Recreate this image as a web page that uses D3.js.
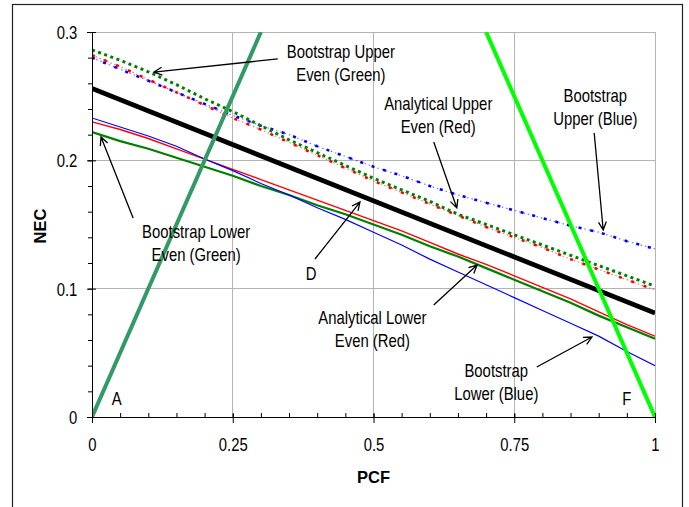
<!DOCTYPE html>
<html>
<head>
<meta charset="utf-8">
<script src="https://cdn.jsdelivr.net/npm/d3@7"></script>
<style>
body{margin:0;background:#fff;}
</style>
</head>
<body>
<svg id="chart"></svg>
<script>
// PCF steps (also used as minor x ticks)
const pcf = [0, 0.05, 0.1, 0.15, 0.2, 0.25, 0.3, 0.35, 0.4, 0.45, 0.5, 0.55, 0.6, 0.65, 0.7, 0.75, 0.8, 0.85, 0.9, 0.95, 1];

// lower bounds (solid)
const bootLowerBlue  = [0.233, 0.226, 0.219, 0.211, 0.201, 0.192, 0.182, 0.173, 0.163, 0.154, 0.144, 0.134, 0.123, 0.113, 0.103, 0.093, 0.083, 0.073, 0.063, 0.051, 0.040];
const anaLowerRed    = [0.230, 0.224, 0.217, 0.209, 0.201, 0.193, 0.185, 0.177, 0.169, 0.161, 0.153, 0.145, 0.136, 0.127, 0.119, 0.110, 0.101, 0.092, 0.082, 0.072, 0.063];
const bootLowerGreen = [0.222, 0.215, 0.209, 0.202, 0.195, 0.188, 0.180, 0.173, 0.165, 0.158, 0.150, 0.142, 0.133, 0.125, 0.116, 0.107, 0.098, 0.089, 0.079, 0.070, 0.061];

// upper bounds (dotted)
const bootUpperBlue  = [0.280, 0.271, 0.262, 0.253, 0.244, 0.235, 0.227, 0.220, 0.211, 0.203, 0.195, 0.188, 0.180, 0.173, 0.167, 0.161, 0.155, 0.149, 0.144, 0.137, 0.131];
const anaUpperRed    = [0.282, 0.273, 0.263, 0.253, 0.243, 0.233, 0.224, 0.214, 0.204, 0.194, 0.184, 0.175, 0.166, 0.157, 0.148, 0.140, 0.132, 0.123, 0.115, 0.107, 0.099];
const bootUpperGreen = [0.286, 0.278, 0.269, 0.259, 0.248, 0.238, 0.227, 0.216, 0.206, 0.196, 0.186, 0.177, 0.168, 0.158, 0.150, 0.142, 0.134, 0.126, 0.118, 0.110, 0.102];

// straight lines
const meanPcf = [0, 1];
const meanNec = [0.256, 0.081];
const linePcfA = [0, 0.3];
const lineNecA = [0, 0.3];
const linePcfF = [0.7, 1];
const lineNecF = [0.3, 0];

// axes
const xTicks = [0, 0.25, 0.5, 0.75, 1];
const yTicks = [0, 0.1, 0.2, 0.3];
const yMinor = [0, 0.02, 0.04, 0.06, 0.08, 0.1, 0.12, 0.14, 0.16, 0.18, 0.2, 0.22, 0.24, 0.26, 0.28, 0.3];

// call-outs, positioned in data units
const notes = [
  {text: ['Bootstrap Upper', 'Even (Green)'], at: [0.442, 0.2795], from: [0.330, 0.279], to: [0.110, 0.2688]},
  {text: ['Analytical Upper', 'Even (Red)'], at: [0.615, 0.2392], from: [0.607, 0.2143], to: [0.648, 0.1629]},
  {text: ['Bootstrap', 'Upper (Blue)'], at: [0.894, 0.2457], from: [0.892, 0.2213], to: [0.908, 0.1457]},
  {text: ['Bootstrap Lower', 'Even (Green)'], at: [0.185, 0.1393], from: [0.073, 0.1551], to: [0.016, 0.2182]},
  {text: ['D'], at: [0.389, 0.1068], from: [0.396, 0.1231], to: [0.476, 0.1675]},
  {text: ['Analytical Lower', 'Even (Red)'], at: [0.498, 0.0725], from: [0.607, 0.0873], to: [0.684, 0.1184]},
  {text: ['Bootstrap', 'Lower (Blue)'], at: [0.718, 0.0314], from: [0.790, 0.039], to: [0.888, 0.0623]}
];
const pointLabels = [{text: 'A', at: [0.044, 0.0094]}, {text: 'F', at: [0.95, 0.0094]}];

const font = '"Liberation Sans", Arial, Helvetica, sans-serif';
const fs = 17.7, squeeze = 'scale(0.84,1)';
const w = 689, h = 507;
const mLeft = 92, mRight = 655, mTop = 32, mBottom = 417;

const x = d3.scaleLinear().domain([0, 1]).range([mLeft, mRight]);
const y = d3.scaleLinear().domain([0, 0.3]).range([mBottom, mTop]);

const svg = d3.select('#chart').attr('width', w).attr('height', h);

// outer frame
svg.append('rect')
  .attr('x', 12.5).attr('y', 4.5)
  .attr('width', 670).attr('height', 530)
  .attr('fill', 'none').attr('stroke', '#222').attr('stroke-width', 1.2);

// grid
const grid = svg.append('g').attr('stroke', '#b4b4b4').attr('shape-rendering', 'crispEdges');
grid.selectAll('line.v').data(xTicks.slice(1)).join('line')
  .attr('x1', d => x(d)).attr('x2', d => x(d))
  .attr('y1', y(0.3)).attr('y2', y(0));
grid.selectAll('line.h').data(yTicks.slice(1)).join('line')
  .attr('x1', x(0)).attr('x2', x(1))
  .attr('y1', d => y(d)).attr('y2', d => y(d));

// clip
svg.append('clipPath').attr('id', 'clip')
  .append('rect').attr('x', mLeft).attr('y', mTop).attr('width', mRight - mLeft).attr('height', mBottom - mTop);
const plot = svg.append('g').attr('clip-path', 'url(#clip)');

const line = d3.line().x(d => x(d[0])).y(d => y(d[1]));

// dotted upper bounds: faint fine dots under bigger square dots
function dotted(vals, color, fine, big, width){
  const pts = d3.zip(pcf, vals);
  plot.append('path').attr('d', line(pts)).attr('fill', 'none')
    .attr('stroke', color).attr('stroke-opacity', 0.55).attr('stroke-width', 1.2)
    .attr('stroke-dasharray', fine);
  plot.append('path').attr('d', line(pts)).attr('fill', 'none')
    .attr('stroke', color).attr('stroke-width', width)
    .attr('stroke-dasharray', big);
}
dotted(bootUpperBlue, '#0000ff', '1.5,3', '3,9', 2.6);
dotted(anaUpperRed, '#ff0000', '1.5,2.5', '3,10', 2.6);
plot.append('path').attr('d', line(d3.zip(pcf, bootUpperGreen))).attr('fill', 'none')
  .attr('stroke', '#008000').attr('stroke-width', 3).attr('stroke-dasharray', '3,3.5');

// solid lower bounds
plot.append('path').attr('d', line(d3.zip(pcf, bootLowerGreen))).attr('fill', 'none')
  .attr('stroke', '#008000').attr('stroke-width', 2.2);
plot.append('path').attr('d', line(d3.zip(pcf, anaLowerRed))).attr('fill', 'none')
  .attr('stroke', '#ff0000').attr('stroke-width', 1.4);
plot.append('path').attr('d', line(d3.zip(pcf, bootLowerBlue))).attr('fill', 'none')
  .attr('stroke', '#0000ff').attr('stroke-width', 1.2);

// thick lines
plot.append('path').attr('d', line(d3.zip(meanPcf, meanNec))).attr('fill', 'none')
  .attr('stroke', '#000').attr('stroke-width', 4.8);
plot.append('path').attr('d', line(d3.zip(linePcfA, lineNecA))).attr('fill', 'none')
  .attr('stroke', '#339966').attr('stroke-width', 4);
plot.append('path').attr('d', line(d3.zip(linePcfF, lineNecF))).attr('fill', 'none')
  .attr('stroke', '#00ff00').attr('stroke-width', 4);

// axes
const gxMinor = svg.append('g').attr('transform', `translate(0,${mBottom})`)
  .call(d3.axisBottom(x).tickValues(pcf).tickSize(-4).tickSizeOuter(0).tickFormat(''));
gxMinor.select('.domain').remove();

const gx = svg.append('g').attr('transform', `translate(0,${mBottom})`)
  .call(d3.axisBottom(x).tickValues(xTicks).tickSizeOuter(0).tickFormat(d => String(d)))
  .attr('font-family', font).attr('font-size', fs);
gx.selectAll('.tick line').attr('y1', -3).attr('y2', 6);
gx.selectAll('.tick text').attr('y', 34).attr('dy', 0).attr('transform', squeeze);

const gyMinor = svg.append('g').attr('transform', `translate(${mLeft},0)`)
  .call(d3.axisLeft(y).tickValues(yMinor).tickSize(4).tickSizeOuter(0).tickFormat(''));
gyMinor.select('.domain').remove();

const gy = svg.append('g').attr('transform', `translate(${mLeft},0)`)
  .call(d3.axisLeft(y).tickValues(yTicks).tickSizeOuter(0).tickFormat(d => String(d)))
  .attr('font-family', font).attr('font-size', fs);
gy.selectAll('.tick line').attr('x1', 4).attr('x2', -5);
gy.selectAll('.tick text').attr('x', -17.5).attr('dy', '0.36em').attr('transform', squeeze);
svg.selectAll('.domain').attr('stroke', '#000');
svg.selectAll('.tick line').attr('stroke', '#000');

// axis titles
svg.append('text').text('NEC')
  .attr('transform', 'translate(46,226) rotate(-90)')
  .attr('text-anchor', 'middle').attr('font-family', font)
  .attr('font-weight', 'bold').attr('font-size', 16.5);
svg.append('text').text('PCF')
  .attr('x', (mLeft + mRight) / 2).attr('y', 483)
  .attr('text-anchor', 'middle').attr('font-family', font)
  .attr('font-weight', 'bold').attr('font-size', 16.5);

// call-outs
const ann = svg.append('g');
notes.forEach(n => {
  n.text.forEach((t, i) => {
    ann.append('text').text(t)
      .attr('transform', `translate(${x(n.at[0])},${y(n.at[1]) + i * 23}) ${squeeze}`)
      .attr('text-anchor', 'middle').attr('font-family', font).attr('font-size', fs);
  });
  const fx = x(n.from[0]), fy = y(n.from[1]), tx = x(n.to[0]), ty = y(n.to[1]);
  const a = Math.atan2(ty - fy, tx - fx);
  const L = 9;
  const p1 = [tx - L * Math.cos(a - 0.45), ty - L * Math.sin(a - 0.45)];
  const p2 = [tx - L * Math.cos(a + 0.45), ty - L * Math.sin(a + 0.45)];
  ann.append('path')
    .attr('d', `M${fx},${fy}L${tx},${ty}M${p1[0]},${p1[1]}L${tx},${ty}L${p2[0]},${p2[1]}`)
    .attr('fill', 'none').attr('stroke', '#000').attr('stroke-width', 1.3);
});
pointLabels.forEach(p => {
  ann.append('text').text(p.text)
    .attr('transform', `translate(${x(p.at[0])},${y(p.at[1])}) ${squeeze}`)
    .attr('text-anchor', 'middle').attr('font-family', font).attr('font-size', fs);
});
</script>
</body>
</html>
